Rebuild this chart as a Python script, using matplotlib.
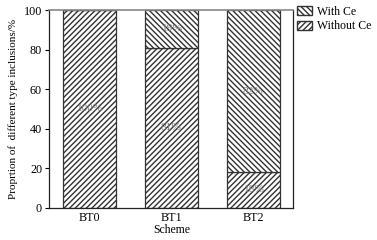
import numpy as np
import matplotlib.pyplot as plt
import matplotlib.patches as mpatches

# data
schemes = ["BT0", "BT1", "BT2"]
without_ce = [100, 81, 18]
with_ce = [0, 19, 82]
without_lbl = ["100%", "81%", "18%"]
with_lbl = ["", "19%", "82%"]

plt.rcParams["font.family"] = ["Liberation Serif", "DejaVu Serif"]
plt.rcParams["hatch.linewidth"] = 1.0
plt.rcParams["hatch.color"] = "#1a1a1a"

fig = plt.figure(figsize=(3.77, 2.40), dpi=100)
ax = fig.add_axes([0.130, 0.135, 0.6485, 0.823])

x = np.arange(len(schemes))
w = 0.65
ax.bar(x, without_ce, w, color="white", edgecolor="#333333",
       linewidth=0.9, hatch="//////")
ax.bar(x, with_ce, w, bottom=without_ce, color="white", edgecolor="#333333",
       linewidth=0.9, hatch="\\\\\\\\\\\\")

# percentage labels inside the segments
for i in range(len(schemes)):
    ax.text(x[i], without_ce[i] / 2, without_lbl[i], ha="center", va="center",
            fontsize=8.2, color="#7a7a7a")
    if with_lbl[i]:
        ax.text(x[i], without_ce[i] + with_ce[i] / 2, with_lbl[i], ha="center",
                va="center", fontsize=8.2, color="#7a7a7a")

ax.set_xlim(-0.49, 2.49)
ax.set_ylim(0, 100)
ax.set_yticks([0, 20, 40, 60, 80, 100])
ax.set_xticks(x)
ax.set_xticklabels(schemes)
ax.tick_params(axis="x", length=0, labelsize=8.7, pad=3.5)
ax.tick_params(axis="y", length=3, width=0.8, labelsize=8.7, pad=2)
ax.set_xlabel("Scheme", fontsize=8.5, labelpad=0)
ax.set_ylabel("Proprtion of  different type inclusions/%", fontsize=8, labelpad=4)

for s in ["left", "bottom", "right"]:
    ax.spines[s].set_color("#222222")
    ax.spines[s].set_linewidth(0.9)
ax.spines["top"].set_color("#888888")
ax.spines["top"].set_linewidth(1.2)

h1 = mpatches.Patch(facecolor="white", edgecolor="#333333", hatch="\\\\\\\\\\\\", label="With Ce")
h2 = mpatches.Patch(facecolor="white", edgecolor="#333333", hatch="//////", label="Without Ce")
ax.legend(handles=[h1, h2], loc="upper left", bbox_to_anchor=(0.98, 1.065),
          frameon=False, fontsize=8.5, handlelength=1.3, handleheight=0.8,
          handletextpad=0.4, labelspacing=0.25, borderaxespad=0.3)

fig.savefig("out.png", dpi=100)
